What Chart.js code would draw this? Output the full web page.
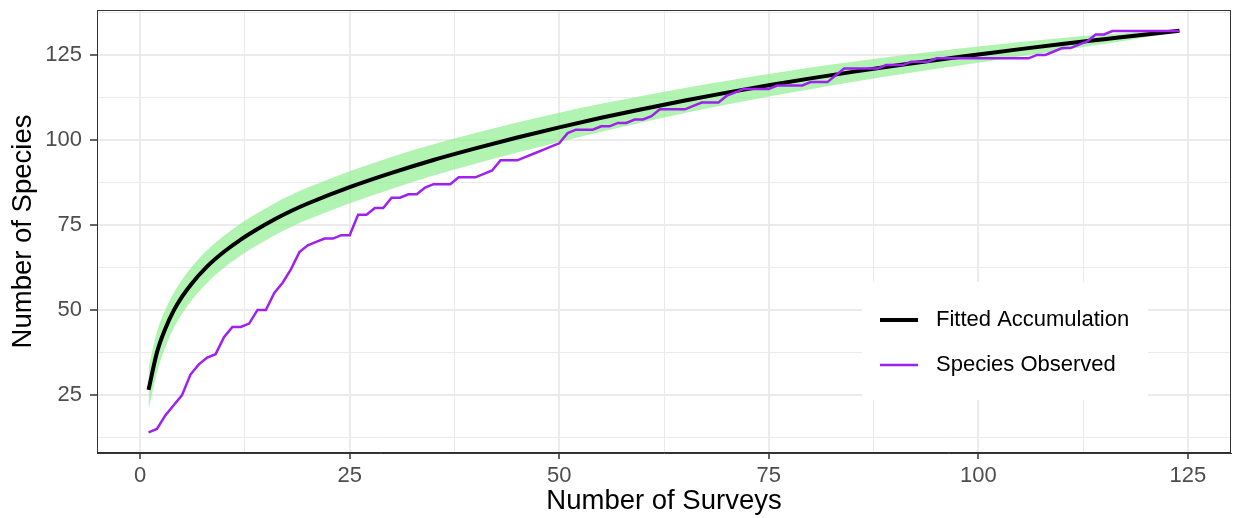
<!DOCTYPE html>
<html>
<head>
<meta charset="utf-8">
<script src="https://cdn.jsdelivr.net/npm/chart.js@4"></script>
<style>
  body { margin: 0; background: #fff; }
  #wrap { width: 1236px; height: 518px; }
</style>
</head>
<body>
<div id="wrap"><canvas id="accumChart" width="1236" height="518"></canvas></div>
<script>
// Species observed per survey
const surveys = [
  1, 2, 3, 4, 5, 6, 7, 8, 9, 10, 11, 12, 13, 14, 15, 16, 17, 18, 19, 20,
  21, 22, 23, 24, 25, 26, 27, 28, 29, 30, 31, 32, 33, 34, 35, 36, 37, 38, 39, 40,
  41, 42, 43, 44, 45, 46, 47, 48, 49, 50, 51, 52, 53, 54, 55, 56, 57, 58, 59, 60,
  61, 62, 63, 64, 65, 66, 67, 68, 69, 70, 71, 72, 73, 74, 75, 76, 77, 78, 79, 80,
  81, 82, 83, 84, 85, 86, 87, 88, 89, 90, 91, 92, 93, 94, 95, 96, 97, 98, 99, 100,
  101, 102, 103, 104, 105, 106, 107, 108, 109, 110, 111, 112, 113, 114, 115, 116, 117, 118, 119, 120,
  121, 122, 123, 124
];
const observed = [
  14, 15, 19, 22, 25, 31, 34, 36, 37, 42, 45, 45, 46, 50, 50, 55, 58, 62, 67, 69,
  70, 71, 71, 72, 72, 78, 78, 80, 80, 83, 83, 84, 84, 86, 87, 87, 87, 89, 89, 89,
  90, 91, 94, 94, 94, 95, 96, 97, 98, 99, 102, 103, 103, 103, 104, 104, 105, 105, 106, 106,
  107, 109, 109, 109, 109, 110, 111, 111, 111, 113, 114, 115, 115, 115, 115, 116, 116, 116, 116, 117,
  117, 117, 119, 121, 121, 121, 121, 121, 122, 122, 122, 123, 123, 123, 124, 124, 124, 124, 124, 124,
  124, 124, 124, 124, 124, 124, 125, 125, 126, 127, 127, 128, 129, 131, 131, 132, 132, 132, 132, 132,
  132, 132, 132, 132
];

// Fitted accumulation curve and its ribbon, read at selected survey counts
const fitX = [1, 2, 3, 4, 5, 6, 8, 10, 12, 14, 16, 18, 20, 25, 30, 35, 40, 45, 50, 55,
  60, 65, 70, 75, 80, 85, 90, 95, 100, 105, 110, 115, 120, 124];
const fitted = [26.5, 37.5, 44.5, 49.8, 53.9, 57.3, 62.8, 67.1, 70.7, 73.8, 76.6, 79.1, 81.3, 86.1, 90.3, 94.1, 97.5, 100.7, 103.7, 106.5,
  109.1, 111.6, 113.9, 116.1, 118.1, 120, 121.8, 123.5, 125.1, 126.7, 128.2, 129.6, 131, 132.1];
const upper = [33, 43.5, 50, 55, 58.9, 62.2, 67.6, 71.8, 75.4, 78.5, 81.3, 83.8, 86, 90.8, 95, 98.7, 102, 105.1, 108, 110.6,
  113, 115.3, 117.4, 119.4, 121.3, 123, 124.6, 126.1, 127.5, 128.8, 130, 131, 131.8, 132.3];
const lower = [20.5, 31.5, 39, 44.6, 48.9, 52.4, 58, 62.4, 66, 69.1, 71.9, 74.4, 76.6, 81.4, 85.6, 89.5, 93, 96.3, 99.4, 102.4,
  105.2, 107.9, 110.4, 112.8, 114.9, 117, 119, 120.9, 122.7, 124.6, 126.4, 128.2, 130.2, 131.9];

// Axis ticks (major every 25, minor halfway)
const xTicks = [0, 12.5, 25, 37.5, 50, 62.5, 75, 87.5, 100, 112.5, 125];
const yTicks = [12.5, 25, 37.5, 50, 62.5, 75, 87.5, 100, 112.5, 125, 137.5];

const FONT = "'Liberation Sans', Arial, sans-serif";
const isMajor = v => v % 25 === 0;

const pts = (xs, ys) => xs.map((x, i) => ({ x: x, y: ys[i] }));

// no extra room for the tick labels, the panel edges are fixed
const noPad = s => {
  s.paddingTop = 0; s.paddingBottom = 0; s.paddingLeft = 0; s.paddingRight = 0;
};

// Draws the panel border and the ggplot style legend inside the panel
const panelPlugin = {
  id: 'panel',
  afterDraw(chart) {
    const { ctx, chartArea: a } = chart;
    ctx.save();
    ctx.strokeStyle = '#333333';
    ctx.lineWidth = 1;
    ctx.strokeRect(a.left + 0.5, a.top + 0.5, a.right - a.left - 1, a.bottom - a.top - 1);

    // legend box
    const boxW = 286, boxH = 118;
    const bx = a.right - 83 - boxW, by = a.bottom - 53 - boxH;
    ctx.fillStyle = '#ffffff';
    ctx.fillRect(bx, by, boxW, boxH);
    const entries = chart.data.datasets.filter(d => d.inLegend);
    entries.forEach((d, i) => {
      const cy = by + 38 + i * 45;
      ctx.strokeStyle = d.borderColor;
      ctx.lineWidth = d.borderWidth;
      ctx.beginPath();
      ctx.moveTo(bx + 18, cy);
      ctx.lineTo(bx + 56, cy);
      ctx.stroke();
      ctx.fillStyle = '#000000';
      ctx.font = '22px ' + FONT;
      ctx.textBaseline = 'middle';
      ctx.textAlign = 'left';
      ctx.fillText(d.label, bx + 74, cy);
    });
    ctx.restore();
  }
};

const ctx = document.getElementById('accumChart').getContext('2d');

new Chart(ctx, {
  type: 'line',
  data: {
    datasets: [
      {
        label: 'Fitted Accumulation',
        data: pts(fitX, fitted),
        borderColor: '#000000',
        borderWidth: 4,
        pointRadius: 0,
        cubicInterpolationMode: 'monotone',
        order: 1,
        inLegend: true
      },
      {
        label: 'Species Observed',
        data: pts(surveys, observed),
        borderColor: '#A020F0',
        borderWidth: 2.5,
        pointRadius: 0,
        tension: 0,
        order: 0,
        inLegend: true
      },
      {
        label: 'upper',
        data: pts(fitX, upper),
        borderWidth: 0,
        borderColor: 'rgba(0,0,0,0)',
        backgroundColor: 'rgba(144, 238, 144, 0.7)',
        pointRadius: 0,
        cubicInterpolationMode: 'monotone',
        fill: '+1',
        order: 2
      },
      {
        label: 'lower',
        data: pts(fitX, lower),
        borderWidth: 0,
        borderColor: 'rgba(0,0,0,0)',
        pointRadius: 0,
        cubicInterpolationMode: 'monotone',
        fill: false,
        order: 3
      }
    ]
  },
  options: {
    responsive: false,
    animation: false,
    layout: { padding: { top: 10, right: 5, left: 0, bottom: 0 } },
    plugins: {
      legend: { display: false },
      tooltip: { enabled: false }
    },
    scales: {
      x: {
        type: 'linear',
        min: -5.15,
        max: 130.15,
        afterBuildTicks: s => { s.ticks = xTicks.map(v => ({ value: v })); },
        afterFit: s => { s.height = 65; noPad(s); },
        ticks: {
          autoSkip: false,
          maxRotation: 0,
          padding: 4,
          color: '#4D4D4D',
          font: { family: FONT, size: 22 },
          callback: v => isMajor(v) ? v : ''
        },
        grid: {
          color: '#EBEBEB',
          lineWidth: c => isMajor(c.tick.value) ? 2 : 1,
          tickLength: 6,
          tickColor: c => isMajor(c.tick.value) ? '#333333' : 'rgba(0,0,0,0)',
          tickWidth: 1.5
        },
        border: { display: true, color: '#333333', width: 1 },
        title: {
          display: true,
          text: 'Number of Surveys',
          color: '#000000',
          font: { family: FONT, size: 27.5 },
          padding: { top: 0, bottom: 0 }
        }
      },
      y: {
        type: 'linear',
        min: 7.94,
        max: 138.2,
        afterBuildTicks: s => { s.ticks = yTicks.map(v => ({ value: v })); },
        afterFit: s => { s.width = 97; noPad(s); },
        ticks: {
          autoSkip: false,
          padding: 8,
          color: '#4D4D4D',
          font: { family: FONT, size: 22 },
          callback: v => isMajor(v) ? v : ''
        },
        grid: {
          color: '#EBEBEB',
          lineWidth: c => isMajor(c.tick.value) ? 2 : 1,
          tickLength: 7,
          tickColor: c => isMajor(c.tick.value) ? '#333333' : 'rgba(0,0,0,0)',
          tickWidth: 1.5
        },
        border: { display: true, color: '#333333', width: 1 },
        title: {
          display: true,
          text: 'Number of Species',
          color: '#000000',
          font: { family: FONT, size: 27.5 },
          padding: { top: 7, bottom: 0 }
        }
      }
    }
  },
  plugins: [panelPlugin]
});
</script>
</body>
</html>
